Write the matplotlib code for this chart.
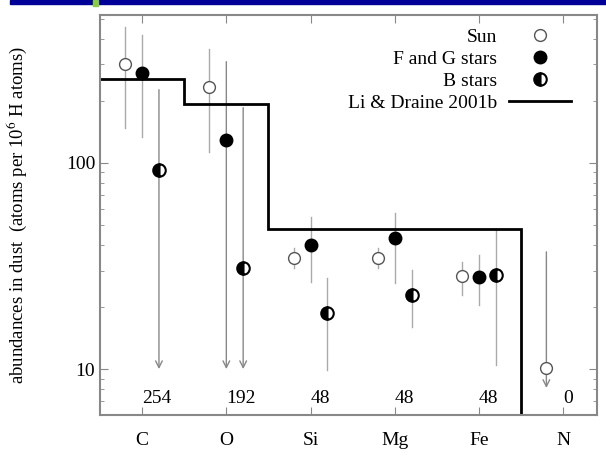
import matplotlib.pyplot as plt
import numpy as np
from matplotlib.lines import Line2D
from matplotlib.patches import Rectangle

plt.rcParams['font.family'] = ['Liberation Serif', 'DejaVu Serif']
plt.rcParams['mathtext.fontset'] = 'stix'

elements = ["C", "O", "Si", "Mg", "Fe", "N"]
model = [254, 192, 48, 48, 48, 0]

# Sun
sun_val = [302, 234, 34.6, 34.6, 28.2, 10.1]
sun_hi = [457, 354, 38.6, 38.6, 33, 37]
sun_lo = [148, 113, 31, 31, 22.9, 8.1]
sun_lim = [False, False, False, False, False, True]

# F and G stars
fg_val = [271, 129, 40, 43.3, 28]
fg_hi = [414, 309, 54.7, 57, 35.7]
fg_lo = [134, 10, 26.3, 26, 20.4]
fg_lim = [False, True, False, False, False]

# B stars
b_val = [92, 31, 18.7, 22.9, 28.6]
b_hi = [226, 185, 27.6, 30.2, 47]
b_lo = [10, 10, 9.9, 16, 10.5]
b_lim = [True, True, False, False, False]

fig = plt.figure(figsize=(6.06, 4.62), dpi=100)
fig.patches.append(Rectangle((10/606, 458/462), 1, 4/462, transform=fig.transFigure,
                             color='#000099', zorder=5))
fig.patches.append(Rectangle((93/606, 456/462), 5/606, 6/462, transform=fig.transFigure,
                             color='#88cc44', zorder=6))
ax = fig.add_axes([0.165, 0.102, 0.82, 0.8655])

x = np.arange(1, len(elements) + 1)


def draw(xs, val, hi, lo, lim, style):
    for xi, v, h, l, lm in zip(xs, val, hi, lo, lim):
        if lm:
            ax.annotate('', xy=(xi, l), xytext=(xi, h),
                        arrowprops=dict(arrowstyle='->', color='#888888', lw=1,
                                        mutation_scale=12, shrinkA=0, shrinkB=0),
                        zorder=1)
        else:
            ax.plot([xi, xi], [l, h], color='#aaaaaa', lw=1, zorder=1)
    ax.plot(xs, val, linestyle='none', zorder=3, **style)


sun_style = dict(marker='o', ms=8.5, mfc='white', mec='#555555', mew=1)
fg_style = dict(marker='o', ms=9, mfc='black', mec='black')
b_style = dict(marker='o', ms=9, mfc='black', mec='black', fillstyle='left',
               markerfacecoloralt='white', mew=1.5)

draw(x - 0.2, sun_val, sun_hi, sun_lo, sun_lim, sun_style)
draw(x[:5], fg_val, fg_hi, fg_lo, fg_lim, fg_style)
draw(x[:5] + 0.2, b_val, b_hi, b_lo, b_lim, b_style)

# Li & Draine step model
edges = np.concatenate([[0.5], x + 0.5])
levels = np.array([max(m, 1) for m in model], dtype=float)
ax.stairs(levels, edges, color='black', lw=2, baseline=None, zorder=2)

for xi, m in zip(x, model):
    ax.text(xi, 7.2, str(m), ha='left', va='center', fontsize=14)

ax.set_yscale('log')
ax.set_ylim(6, 520)
ax.set_xlim(0.5, 6.4)
ax.set_xticks(x)
ax.set_xticklabels(elements, fontsize=14)
ax.set_yticks([10, 100])
ax.set_yticklabels(['10', '100'], fontsize=14)
ax.tick_params(which='both', direction='in', top=True, right=True, color='#888888')
ax.tick_params(which='major', length=6)
ax.tick_params(which='minor', length=3)
ax.tick_params(axis='x', pad=12)
for s in ax.spines.values():
    s.set_color('#888888')
    s.set_linewidth(1.5)
ax.set_ylabel('abundances in dust  (atoms per 10$^6$ H atoms)', fontsize=13.5)
ax.yaxis.set_label_coords(-0.142, 0.5)

handles = [Line2D([], [], linestyle='none', **sun_style),
           Line2D([], [], linestyle='none', **fg_style),
           Line2D([], [], linestyle='none', **b_style),
           Line2D([], [], color='black', lw=2)]
labels = ['Sun', 'F and G stars', 'B stars', 'Li & Draine 2001b']
leg = ax.legend(handles, labels, loc='upper right', bbox_to_anchor=(0.975, 1.0),
                markerfirst=False, frameon=False, fontsize=14, handlelength=3.2,
                handletextpad=0.6, labelspacing=0.22, borderaxespad=0.3)
for t in leg.get_texts():
    t.set_ha('right')

fig.savefig('out.png', dpi=100)
